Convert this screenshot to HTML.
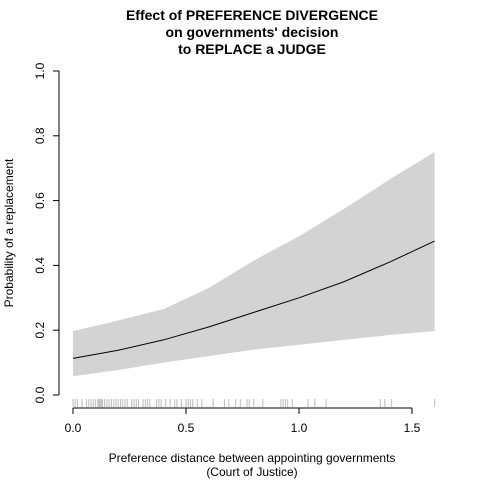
<!DOCTYPE html>
<html><head><meta charset="utf-8"><style>
html,body{margin:0;padding:0;background:#fff;}
svg{display:block;font-family:"Liberation Sans",Arial,sans-serif;}
</style></head><body>
<svg id="chart" width="480" height="480">
<text x="252" y="20" text-anchor="middle" font-weight="bold" font-size="14">Effect of PREFERENCE DIVERGENCE</text>
<text x="252" y="37" text-anchor="middle" font-weight="bold" font-size="14">on governments' decision</text>
<text x="252" y="54" text-anchor="middle" font-weight="bold" font-size="14">to REPLACE a JUDGE</text>
<g id="band"></g>
<g id="rug"></g>
<g id="line"></g>
<g id="axes"></g>
<text x="252" y="462" text-anchor="middle" font-size="12">Preference distance between appointing governments</text>
<text x="252" y="476" text-anchor="middle" font-size="12">(Court of Justice)</text>
<text transform="translate(13,233) rotate(-90)" text-anchor="middle" font-size="12">Probability of a replacement</text>
</svg>
<script>
const xs = [0,0.2,0.4,0.6,0.8,1.0,1.2,1.4,1.6];
const fit = [0.113,0.138,0.17,0.21,0.255,0.30,0.35,0.41,0.475];
const upper = [0.197,0.23,0.265,0.33,0.415,0.49,0.575,0.665,0.75];
const lower = [0.058,0.077,0.10,0.12,0.14,0.155,0.17,0.185,0.197];
const rugVals = [0,0.01,0.02,0.04,0.06,0.07,0.08,0.09,0.10,0.11,0.115,0.12,0.125,0.13,0.14,0.15,0.16,0.17,0.18,0.19,0.2,0.21,0.22,0.23,0.24,0.26,0.27,0.28,0.29,0.31,0.32,0.33,0.34,0.37,0.38,0.39,0.41,0.43,0.45,0.46,0.48,0.5,0.51,0.52,0.53,0.55,0.57,0.62,0.67,0.69,0.72,0.74,0.77,0.78,0.8,0.84,0.92,0.93,0.94,0.95,0.97,1.04,1.07,1.12,1.36,1.38,1.41,1.6];
const xTicks = [0,0.5,1.0,1.5];
const xTickLabels = ["0.0","0.5","1.0","1.5"];
const yTicks = [0,0.2,0.4,0.6,0.8,1.0];
const yTickLabels = ["0.0","0.2","0.4","0.6","0.8","1.0"];
const NS="http://www.w3.org/2000/svg";
const X = v => 73 + v*226;
const Y = v => 395 - v*324;
function mk(tag, attrs, parent){const e=document.createElementNS(NS,tag);for(const k in attrs)e.setAttribute(k,attrs[k]);parent.appendChild(e);return e;}
const band=document.getElementById('band');
let pts=xs.map((x,i)=>X(x)+','+Y(upper[i]));
for(let i=xs.length-1;i>=0;i--)pts.push(X(xs[i])+','+Y(lower[i]));
const poly=mk('polygon',{points:pts.join(' '),fill:'#d3d3d3'},band);


const rug=document.getElementById('rug');
rugVals.forEach(v=>{const l=mk('line',{x1:X(v),x2:X(v),y1:399,y2:407,stroke:'#bbb','stroke-width':1},rug);

});
const lg=document.getElementById('line');
const pl=mk('polyline',{points:xs.map((x,i)=>X(x)+','+Y(fit[i])).join(' '),fill:'none',stroke:'#000','stroke-width':1},lg);


const ax=document.getElementById('axes');
mk('line',{x1:X(0),x2:X(1.5),y1:408,y2:408,stroke:'#000'},ax);
xTicks.forEach((t,i)=>{mk('line',{x1:X(t),x2:X(t),y1:408,y2:414,stroke:'#000'},ax);
const tx=mk('text',{x:X(t),y:432,'text-anchor':'middle','font-size':12},ax);tx.textContent=xTickLabels[i];

});
mk('line',{x1:59,x2:59,y1:Y(0),y2:Y(1),stroke:'#000'},ax);
yTicks.forEach((t,i)=>{mk('line',{x1:53,x2:59,y1:Y(t),y2:Y(t),stroke:'#000'},ax);
const tx=mk('text',{transform:`translate(44,${Y(t)}) rotate(-90)`,'text-anchor':'middle','font-size':12},ax);tx.textContent=yTickLabels[i];

});
</script>
</body></html>
